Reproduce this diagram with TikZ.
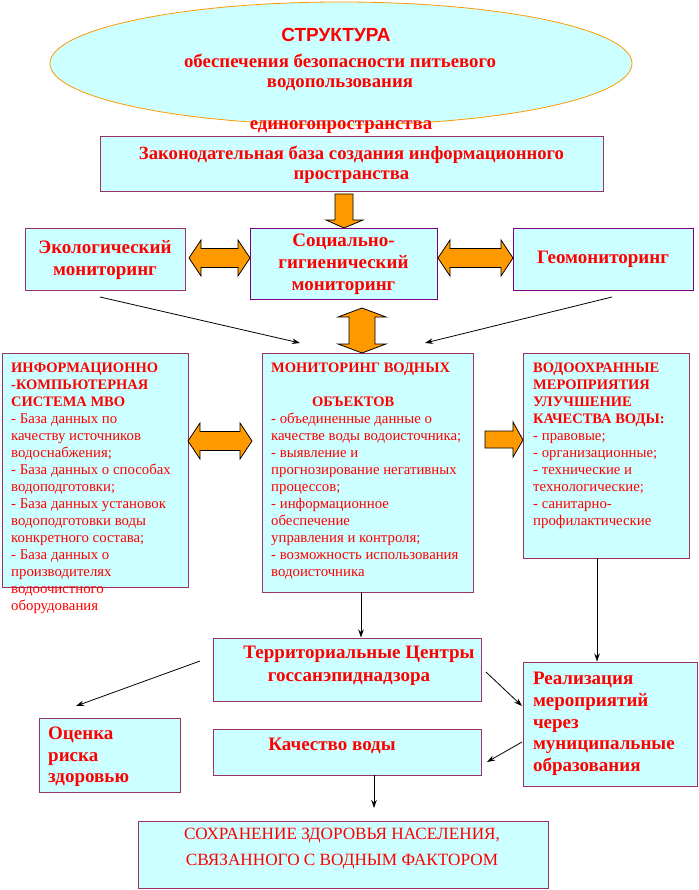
\documentclass[tikz,border=0pt]{standalone}
\usepackage{fontspec}
\setmainfont{Liberation Serif}
\newfontfamily\headfont{Liberation Sans}
\usepackage{tikz}
\usetikzlibrary{shapes.geometric,arrows.meta,positioning,calc}
\definecolor{BoxFill}{HTML}{CCFFFF}
\definecolor{BoxEdge}{HTML}{993366}
\definecolor{DarkViolet}{HTML}{800080}
\definecolor{ArrowOrange}{HTML}{FF9900}
\definecolor{TextRed}{HTML}{FF0000}
\newcommand{\boxhead}[1]{{\bfseries\fontsize{14.5}{17}\selectfont #1}}
% fat double arrow lying flat: left x, right x, middle y
\newcommand{\flatarrow}[3]{%
  \draw[blockarrow] (#1,#3) -- (#1+12,#3-18) -- (#1+12,#3-9.5) -- (#2-12,#3-9.5)
    -- (#2-12,#3-18) -- (#2,#3) -- (#2-12,#3+18) -- (#2-12,#3+9.5)
    -- (#1+12,#3+9.5) -- (#1+12,#3+18) -- cycle;}
\tikzset{
  box/.style={draw=BoxEdge, fill=BoxFill, line width=1pt, inner sep=0pt, text=TextRed, align=center},
  violetbox/.style={box, draw=DarkViolet},
  redtext/.style={text=TextRed, inner sep=0pt, align=center},
  bigbold/.style={font={\bfseries\fontsize{19}{22}\selectfont}},
  hugebold/.style={font={\bfseries\fontsize{19}{21.7}\selectfont}},
  listtext/.style={redtext, align=left, anchor=north west, font={\fontsize{14.8}{17}\selectfont}},
  link/.style={->, line width=0.8pt},
  blockarrow/.style={draw=black, fill=ArrowOrange, line width=0.8pt}
}

\begin{document}
\begin{tikzpicture}[x=1pt,y=-1pt,>={Stealth[length=8pt,width=5.5pt]}]
        \useasboundingbox (0,0) rectangle (698,890);

        % Draw the title ellipse
        \node[ellipse, draw=ArrowOrange, fill=BoxFill, line width=0.8pt, minimum width=582pt, minimum height=123pt] (title) at (341,63.5) {};
        \node[redtext, font={\headfont\bfseries\fontsize{19}{20}\selectfont}] (titlehead) at (336,35) {СТРУКТУРА};
        \node[redtext, font={\bfseries\fontsize{18.8}{20}\selectfont}] (titlesub) at (340,72) {обеспечения безопасности питьевого\\водопользования};
        \node[redtext, font={\bfseries\fontsize{18.8}{20}\selectfont}] (titletail) at (341,127) {единогопространства};

        % Draw the upper boxes
        \node[box, minimum width=503pt, minimum height=55pt, font={\bfseries\fontsize{18.7}{20}\selectfont}] (law) at (351.5,164.5) {Законодательная база создания информационного\\пространства};
        \node[box, bigbold, minimum width=160pt, minimum height=61pt] (eco) at (105,259.5) {Экологический\\мониторинг};
        \node[violetbox, bigbold, minimum width=187pt, minimum height=70pt] (soc) at (343.5,264) {Социально-\\гигиенический\\мониторинг};
        \node[violetbox, bigbold, minimum width=180pt, minimum height=61pt] (geo) at (603,259.5) {Геомониторинг};

        % Draw the three big boxes
        \node[box, minimum width=186pt, minimum height=234pt] (info) at (95,470) {};
        \node[box, minimum width=211pt, minimum height=239pt] (mon) at (367.5,472.5) {};
        \node[box, minimum width=166pt, minimum height=205pt] (prot) at (606,455.5) {};

        \node[listtext] (infotxt) at (11,363) {\boxhead{ИНФОРМАЦИОННО}\\ \boxhead{-КОМПЬЮТЕРНАЯ}\\ \boxhead{СИСТЕМА МВО}\\
          - База данных по\\ качеству источников\\ водоснабжения;\\ - База данных о способах\\ водоподготовки;\\
          - База данных установок\\ водоподготовки воды\\ конкретного состава;\\ - База данных о\\
          производителях\\ водоочистного\\ оборудования};
        \node[listtext] (montxt) at (271,363) {\boxhead{МОНИТОРИНГ ВОДНЫХ}\\[17pt] \hspace*{41pt}\boxhead{ОБЪЕКТОВ}\\
          - объединенные данные о\\ качестве воды водоисточника;\\ - выявление и\\ прогнозирование негативных\\
          процессов;\\ - информационное\\ обеспечение\\ управления и контроля;\\
          - возможность использования\\ водоисточника};
        \node[listtext] (prottxt) at (533,363) {\boxhead{ВОДООХРАННЫЕ}\\ \boxhead{МЕРОПРИЯТИЯ}\\ \boxhead{УЛУЧШЕНИЕ}\\ \boxhead{КАЧЕСТВА ВОДЫ:}\\
          - правовые;\\ - организационные;\\ - технические и\\ технологические;\\ - санитарно-\\ профилактические};

        % Draw the lower boxes
        \node[box, minimum width=268pt, minimum height=63pt] (terr) at (347,669.5) {};
        \node[redtext, hugebold, font={\bfseries\fontsize{19}{23}\selectfont}] (terrtxt) at (349,665.5) {\hspace*{20pt}Территориальные Центры\\госсанэпиднадзора};
        \node[box, hugebold, minimum width=174pt, minimum height=124pt, text width=154pt, align=left] (real) at (610,724) {Реализация\\мероприятий\\через\\муниципальные\\образования};
        \node[box, minimum width=141pt, minimum height=74pt] (risk) at (109.5,755) {};
        \node[redtext, hugebold, anchor=west, align=left] (risktxt) at (48,757) {Оценка\\риска\\здоровью};
        \node[box, minimum width=268pt, minimum height=46pt] (qual) at (347,752) {};
        \node[redtext, font={\bfseries\fontsize{19}{22}\selectfont}] (qualtxt) at (332,746) {Качество воды};
        \node[box, minimum width=410pt, minimum height=67pt] (save) at (343,854.5) {};
        \node[redtext, font={\fontsize{17.2}{26}\selectfont}] (savetxt) at (342,849) {СОХРАНЕНИЕ ЗДОРОВЬЯ НАСЕЛЕНИЯ,\\СВЯЗАННОГО С ВОДНЫМ ФАКТОРОМ};

        % Draw the fat orange arrows
        \draw[blockarrow] (335,194) -- (353,194) -- (353,220) -- (363,220) -- (344,228) -- (326,220) -- (335,220) -- cycle;
        \flatarrow{189}{250}{258}
        \flatarrow{438}{513}{258}
        \flatarrow{188}{252}{441}
        \draw[blockarrow] (362,308) -- (386,317) -- (375,317) -- (375,344) -- (386,344) -- (362,353)
          -- (338,344) -- (349,344) -- (349,317) -- (338,317) -- cycle;
        \draw[blockarrow] (485,431) -- (513,431) -- (513,422) -- (523,440) -- (513,457) -- (513,448) -- (485,448) -- cycle;

        % Free ends of the thin arrows
        \coordinate (ecoout) at (100,297);
        \coordinate (geoout) at (612,297);
        \coordinate (monleft) at (300,343);
        \coordinate (monright) at (425,343);
        \coordinate (monout) at (361,592);
        \coordinate (protout) at (597,558);
        \coordinate (terrleft) at (200,661);
        \coordinate (riskin) at (76,706);
        \coordinate (terrright) at (486,672);
        \coordinate (realin) at (522,706);
        \coordinate (realout) at (522,742);
        \coordinate (qualin) at (487,762);
        \coordinate (qualout) at (374,775);
        \coordinate (savein) at (374,808);

        % Draw the thin arrows
        \draw[link] (ecoout) -- (monleft);
        \draw[link] (geoout) -- (monright);
        \draw[link] (monout) -- (terr.north -| monout);
        \draw[link] (protout) -- (real.north -| protout);
        \draw[link] (terrleft) -- (riskin);
        \draw[link] (terrright) -- (realin);
        \draw[link] (realout) -- (qualin);
        \draw[link] (qualout) -- (savein);
    \end{tikzpicture}
\end{document}
